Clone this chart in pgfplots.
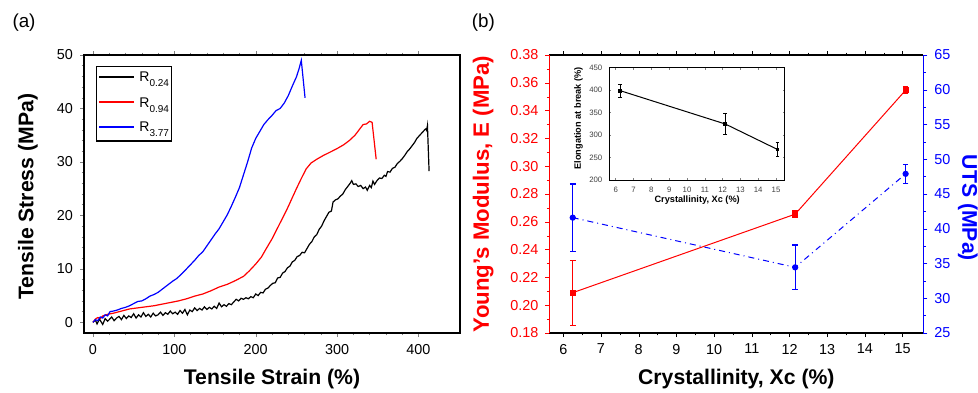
\documentclass[border=0pt]{standalone}
\usepackage{pgfplots}
\pgfplotsset{compat=1.18}
\usepackage{fontspec}
\setmainfont{Liberation Sans}
\definecolor{myred}{RGB}{255,0,0}
\definecolor{myblue}{RGB}{0,0,255}
\newcommand{\biglab}{\bfseries\fontsize{10.6}{12}\selectfont}
\newcommand{\smalllab}{\bfseries\fontsize{4.6}{5}\selectfont}
\newcommand{\sub}[1]{\lower2.5pt\hbox{\fontsize{5}{5}\selectfont #1}}
\pgfplotsset{
  common/.style={
    scale only axis,
    /pgf/number format/assume math mode=true,
    tick label style={font=\fontsize{7.2}{8}\selectfont},
    tick align=outside,
    major tick length=2pt, minor tick length=1.2pt,
    axis line style={line width=0.7pt},
  }
}
\begin{document}
\begin{tikzpicture}
\path[use as bounding box] (0,0) rectangle (489pt,196pt);
\node[font=\fontsize{9.4}{10}\selectfont] at (12pt,184.5pt) {(a)};
\node[font=\fontsize{9.4}{10}\selectfont] at (241.7pt,184.5pt) {(b)};

% ---------------- Panel (a)
\begin{axis}[common, at={(42pt,29.5pt)}, anchor=south west, width=188pt, height=139pt,
  xmin=-11, xmax=451, ymin=-2, ymax=50,
  xtick={0,100,200,300,400}, ytick={0,10,20,30,40,50},
  minor x tick num=4, minor y tick num=4,
  xtick pos=both, xticklabel pos=left, ytick pos=left,
  xlabel={Tensile Strain (\%)}, ylabel={Tensile Stress (MPa)},
  every axis x label/.style={at={(axis description cs:0.5,-0.165)}, anchor=center, font=\biglab},
  every axis y label/.style={at={(axis description cs:-0.149,0.49)}, anchor=center, rotate=90, font=\biglab},
]
\addplot[black, line width=0.6pt] coordinates {
(0,0) (3,0.4) (5,-0.3) (8,0.6) (10,0.1) (12,-0.4) (15,0.7) (18,0.2) (20,0.5) (23,1.0)
(26,0.3) (29,0.8) (32,1.1) (35,0.5) (38,1.3) (41,0.7) (44,1.2) (47,0.9) (50,1.6) (53,0.8)
(56,1.4) (59,1.0) (62,1.8) (65,1.1) (68,1.5) (71,1.0) (74,1.7) (77,1.2) (80,1.4) (83,1.9)
(86,1.3) (89,1.8) (92,1.5) (95,2.1) (98,1.6) (101,1.9) (104,1.5) (107,2.2) (110,1.7) (113,2.4)
(116,1.4) (119,2.3) (122,2.0) (125,2.7) (128,2.2) (131,2.6) (134,2.3) (137,2.9) (140,2.4) (143,2.8)
(146,2.5) (149,3.0) (152,2.6) (155,3.6) (158,2.9) (161,3.3) (164,3.0) (167,3.5) (170,3.3) (173,3.8)
(176,4.3) (179,4.0) (182,4.5) (185,4.3) (188,4.6) (191,4.4) (194,4.8) (197,4.6) (200,5.3) (203,5.0)
(206,5.6) (209,5.5) (212,6.2) (215,6.4) (218,6.9) (221,7.3) (224,7.4) (227,8.3) (230,8.4) (233,9.2)
(236,9.5) (239,10.2) (242,10.5) (245,11.3) (248,11.6) (251,12.3) (254,12.5) (257,13.1) (260,13.0) (263,13.8)
(266,14.6) (269,15.1) (272,16.0) (275,16.4) (278,17.4) (281,18.0) (284,19.0) (287,19.8) (290,20.6) (293,20.8)
(295,22.5) (298,22.9) (301,23.1) (304,23.6) (307,24.0) (310,24.8) (313,25.4) (316,26.0) (318,26.5) (320,25.8)
(323,25.9) (326,25.4) (329,25.6) (332,25.0) (335,25.3) (337,24.7) (340,25.6) (342,25.2) (344,26.4) (346,25.8)
(349,26.5) (352,27.0) (355,26.9) (358,27.5) (360,27.3) (362,28.2) (365,28.1) (368,28.8) (371,29.0) (374,29.7)
(377,30.1) (380,30.6) (383,31.2) (386,31.9) (389,32.4) (392,33.0) (395,33.6) (398,34.4) (401,34.9) (404,35.4)
(407,35.9) (409,36.2) (410,35.9) (411,36.8) (413,28.3)
};
\addplot[myred, line width=0.6pt] coordinates {
(0,0) (3,0.6) (6,0.9) (9,0.7) (12,1.2) (18,1.5) (25,1.7) (35,2.1) (45,2.5) (55,2.7)
(65,2.9) (75,3.1) (85,3.4) (95,3.7) (105,4.0) (115,4.4) (125,4.9) (135,5.3) (145,5.9) (155,6.6)
(165,7.1) (175,7.8) (185,8.6) (192,9.6) (200,10.9) (207,12.2) (213,13.8) (220,15.6) (226,17.4) (232,19.2)
(238,21.0) (244,23.0) (250,25.0) (256,26.9) (262,28.7) (268,29.8) (275,30.5) (283,31.2) (291,31.8) (300,32.5)
(308,33.2) (315,34.0) (322,35.0) (328,36.2) (332,37.0) (336,37.1) (340,37.6) (343,37.4) (348,30.5)
};
\addplot[myblue, line width=0.6pt] coordinates {
(0,0) (3,0.5) (6,0.3) (9,1.0) (12,0.8) (15,1.4) (18,1.2) (21,2.0) (25,2.1) (30,2.3)
(35,2.6) (40,2.8) (45,3.1) (50,3.5) (55,3.9) (60,4.0) (65,4.4) (70,4.9) (75,5.2) (80,5.6)
(86,6.3) (92,7.0) (98,7.7) (103,8.2) (110,9.2) (115,10.0) (120,10.8) (125,11.6) (130,12.5) (135,13.2)
(140,14.3) (145,15.4) (150,16.5) (155,17.5) (160,18.8) (165,20.1) (170,21.7) (175,23.4) (180,25.2) (185,27.6)
(190,30.0) (195,32.6) (200,34.4) (205,35.7) (210,37.0) (215,37.9) (220,38.7) (225,39.6) (230,40.0) (235,41.0)
(240,42.4) (245,44.2) (250,45.9) (253,47.3) (256,49.0) (260.6,42.0)
};
\end{axis}

% legend of panel (a)
\draw[black, line width=0.6pt, fill=white] (48.15pt,125.5pt) rectangle (85.65pt,162.65pt);
\draw[black, line width=0.8pt] (49.5pt,157.65pt) -- (67pt,157.65pt);
\draw[myred, line width=0.8pt] (49.5pt,145pt) -- (67pt,145pt);
\draw[myblue, line width=0.8pt] (49.5pt,132.65pt) -- (67pt,132.65pt);
\node[anchor=base west, inner sep=0pt, font=\fontsize{7}{7}\selectfont] at (69.5pt,155.15pt) {R\sub{0.24}};
\node[anchor=base west, inner sep=0pt, font=\fontsize{7}{7}\selectfont] at (69.5pt,142.5pt) {R\sub{0.94}};
\node[anchor=base west, inner sep=0pt, font=\fontsize{7}{7}\selectfont] at (69.5pt,130.15pt) {R\sub{3.77}};

% ---------------- Panel (b), left axis
\begin{axis}[common, at={(274.67pt,29.5pt)}, anchor=south west, width=187pt, height=139pt,
  xmin=5.63, xmax=15.55, ymin=0.18, ymax=0.38,
  xtick={6,7,8,9,10,11,12,13,14,15}, minor x tick num=1,
  ytick={0.18,0.20,0.22,0.24,0.26,0.28,0.30,0.32,0.34,0.36,0.38}, minor y tick num=1,
  axis y line*=left, xtick pos=both, xticklabel pos=left,
  y axis line style={myred}, y tick style={myred}, x tick style={black},
  yticklabel style={myred, /pgf/number format/.cd, fixed, fixed zerofill, precision=2},
  xlabel={Crystallinity, Xc (\%)}, ylabel={Young's Modulus, E (MPa)},
  every axis x label/.style={at={(axis description cs:0.5,-0.165)}, anchor=center, font=\biglab},
  every axis y label/.style={at={(axis description cs:-0.177,0.5)}, anchor=center, rotate=90, myred, font=\bfseries\fontsize{11.1}{12}\selectfont},
]
\addplot[myred, line width=0.5pt, mark=square*, mark size=1.3pt,
  error bars/.cd, y dir=both, y explicit,
  error bar style={line width=0.5pt},
  error mark options={rotate=90, mark size=1.4pt, line width=0.5pt}]
  coordinates {(6.25,0.209) +- (0,0.0235) (12.15,0.2655) +- (0,0.0025) (15.08,0.3547) +- (0,0.0025)};
\end{axis}

% ---------------- Panel (b), right axis
\begin{axis}[common, at={(274.67pt,29.5pt)}, anchor=south west, width=187pt, height=139pt,
  xmin=5.63, xmax=15.55, ymin=25, ymax=65,
  ytick={25,30,35,40,45,50,55,60,65}, minor y tick num=1,
  axis y line*=right, axis x line=none,
  y axis line style={myblue}, y tick style={myblue},
  yticklabel style={myblue},
  ylabel={UTS (MPa)},
  every axis y label/.style={at={(axis description cs:1.119,0.45)}, anchor=center, rotate=-90, myblue, font=\biglab},
]
\addplot[myblue, line width=0.5pt, dash dot, mark=*, mark size=1.3pt, mark options={solid},
  error bars/.cd, y dir=both, y explicit,
  error bar style={line width=0.6pt, solid},
  error mark options={rotate=90, mark size=1.4pt, line width=0.6pt, solid}]
  coordinates {(6.25,41.6) +- (0,4.85) (12.15,34.45) +- (0,3.2) (15.08,47.9) +- (0,1.4)};
\end{axis}

% ---------------- Inset
\begin{axis}[scale only axis, at={(304.67pt,106pt)}, anchor=south west, width=87.8pt, height=56.17pt,
  /pgf/number format/assume math mode=true,
  xmin=5.64, xmax=15.5, ymin=200, ymax=450,
  xtick={6,7,8,9,10,11,12,13,14,15}, ytick={200,250,300,350,400,450},
  tick label style={font=\fontsize{3.9}{4}\selectfont, color=black!75},
  major tick length=1pt, tick style={line width=0.3pt},
  axis line style={line width=0.5pt},
  axis background/.style={fill=white},
  xlabel={Crystallinity, Xc (\%)}, ylabel={Elongation at break (\%)},
  every axis x label/.style={at={(axis description cs:0.5,-0.178)}, anchor=center, font=\smalllab},
  every axis y label/.style={at={(axis description cs:-0.176,0.55)}, anchor=center, rotate=90, font=\smalllab},
]
\addplot[black, line width=0.5pt, mark=square*, mark size=0.7pt,
  error bars/.cd, y dir=both, y explicit,
  error bar style={line width=0.4pt},
  error mark options={rotate=90, mark size=0.9pt, line width=0.4pt}]
  coordinates {(6.25,398.8) +- (0,15) (12.15,324.6) +- (0,23.5) (15.08,268) +- (0,15.5)};
\end{axis}
\end{tikzpicture}
\end{document}
